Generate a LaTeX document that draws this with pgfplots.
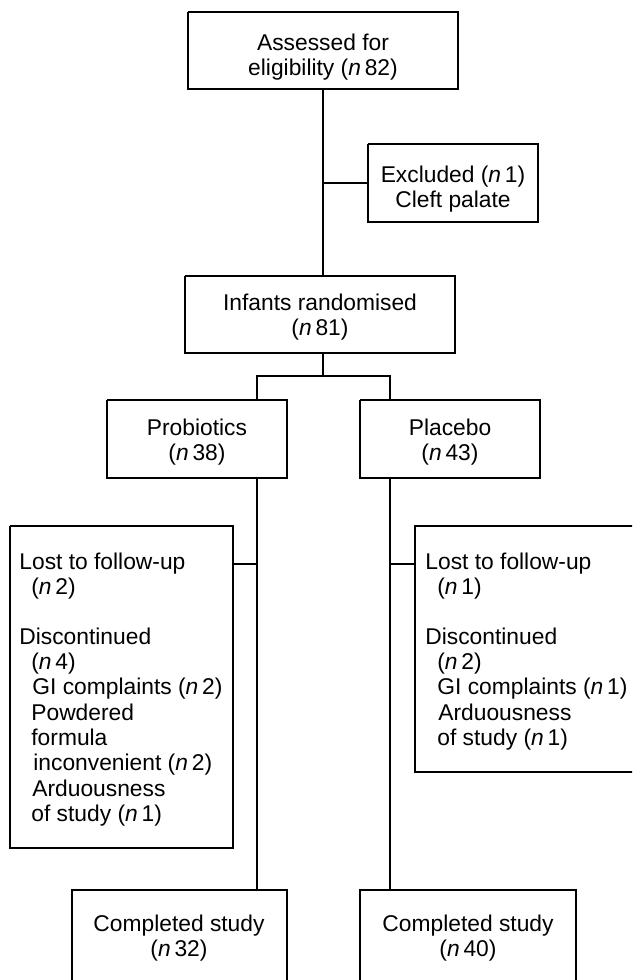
\documentclass[border=0pt]{standalone}
\usepackage{pgfplots}
\pgfplotsset{compat=1.18}
\usepackage{fontspec}
\setmainfont{Liberation Sans}
\begin{document}
\begin{tikzpicture}
\begin{axis}[
  width=316pt, height=490pt, scale only axis,
  xmin=0, xmax=632, ymin=0, ymax=980, y dir=reverse,
  hide axis, clip=true,
  ln/.style={black, solid, line width=0.6pt, mark=none},
]
% invisible frame to fix bounding box
\addplot[draw=none, mark=none] coordinates {(0,0) (632,980)};
% boxes
\addplot[ln] coordinates {(188,12) (458,12) (458,89) (188,89) (188,12)};
\addplot[ln] coordinates {(368,144) (538,144) (538,222) (368,222) (368,144)};
\addplot[ln] coordinates {(185,276) (455,276) (455,353) (185,353) (185,276)};
\addplot[ln] coordinates {(107,400) (287,400) (287,478) (107,478) (107,400)};
\addplot[ln] coordinates {(360,400) (540,400) (540,478) (360,478) (360,400)};
\addplot[ln] coordinates {(10,526) (233,526) (233,848) (10,848) (10,526)};
\addplot[ln] coordinates {(640,526) (415,526) (415,772) (640,772)};
\addplot[ln] coordinates {(72,995) (72,890) (287,890) (287,995)};
\addplot[ln] coordinates {(360,995) (360,890) (576,890) (576,995)};
% connectors
\addplot[ln] coordinates {(323,89) (323,276)};
\addplot[ln] coordinates {(323,183) (368,183)};
\addplot[ln] coordinates {(323,353) (323,376)};
\addplot[ln] coordinates {(257,400) (257,376) (390,376) (390,400)};
\addplot[ln] coordinates {(257,478) (257,890)};
\addplot[ln] coordinates {(390,478) (390,890)};
\addplot[ln] coordinates {(233,564) (257,564)};
\addplot[ln] coordinates {(390,564) (415,564)};
% texts
\tikzset{t/.style={font=\fontsize{11.4}{12.7}\selectfont, inner sep=0pt}}
\node[t, align=center] at (axis cs:323,57) {Assessed for\\eligibility (\textit{n}\,82)};
\node[t, align=center] at (axis cs:453,189) {Excluded (\textit{n}\,1)\\Cleft palate};
\node[t, align=center] at (axis cs:320,317) {Infants randomised\\(\textit{n}\,81)};
\node[t, align=center] at (axis cs:197,442) {Probiotics\\(\textit{n}\,38)};
\node[t, align=center] at (axis cs:450,442) {Placebo\\(\textit{n}\,43)};
\node[t, align=center] at (axis cs:179,938) {Completed study\\(\textit{n}\,32)};
\node[t, align=center] at (axis cs:468,938) {Completed study\\(\textit{n}\,40)};
% left lost box
\node[t, anchor=base west] at (axis cs:19,569) {Lost to follow-up};
\node[t, anchor=base west] at (axis cs:31,594) {(\textit{n}\,2)};
\node[t, anchor=base west] at (axis cs:19,644) {Discontinued};
\node[t, anchor=base west] at (axis cs:31,669) {(\textit{n}\,4)};
\node[t, anchor=base west] at (axis cs:32,694) {GI complaints (\textit{n}\,2)};
\node[t, anchor=base west] at (axis cs:31,720) {Powdered};
\node[t, anchor=base west] at (axis cs:31,745) {formula};
\node[t, anchor=base west] at (axis cs:33,770) {inconvenient (\textit{n}\,2)};
\node[t, anchor=base west] at (axis cs:32,796) {Arduousness};
\node[t, anchor=base west] at (axis cs:31,821) {of study (\textit{n}\,1)};
% right lost box
\node[t, anchor=base west] at (axis cs:425,569) {Lost to follow-up};
\node[t, anchor=base west] at (axis cs:437,594) {(\textit{n}\,1)};
\node[t, anchor=base west] at (axis cs:425,644) {Discontinued};
\node[t, anchor=base west] at (axis cs:437,669) {(\textit{n}\,2)};
\node[t, anchor=base west] at (axis cs:437,694) {GI complaints (\textit{n}\,1)};
\node[t, anchor=base west] at (axis cs:438,720) {Arduousness};
\node[t, anchor=base west] at (axis cs:437,745) {of study (\textit{n}\,1)};
\end{axis}
\end{tikzpicture}
\end{document}
